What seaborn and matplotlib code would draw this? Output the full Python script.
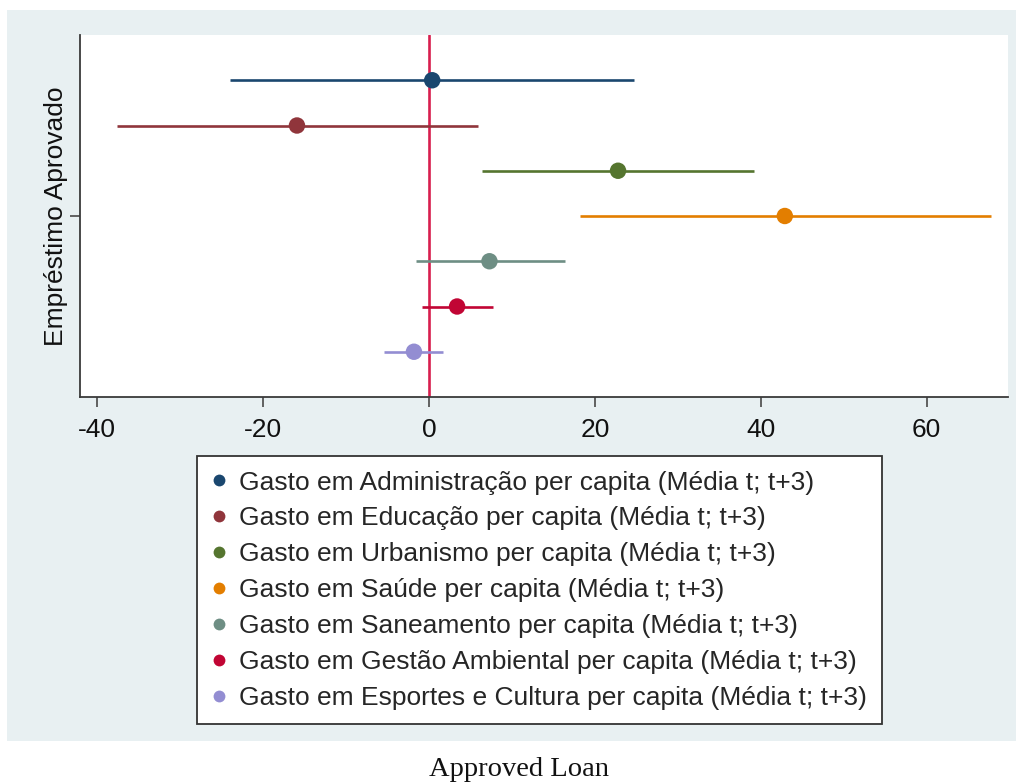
import matplotlib
matplotlib.use("Agg")
import matplotlib.pyplot as plt
from matplotlib.patches import Rectangle
from matplotlib.lines import Line2D
import seaborn as sns
import pandas as pd

# Coefficient estimates and 95% confidence bounds
labels = [
    "Gasto em Administração per capita (Média t; t+3)",
    "Gasto em Educação per capita (Média t; t+3)",
    "Gasto em Urbanismo per capita (Média t; t+3)",
    "Gasto em Saúde per capita (Média t; t+3)",
    "Gasto em Saneamento per capita (Média t; t+3)",
    "Gasto em Gestão Ambiental per capita (Média t; t+3)",
    "Gasto em Esportes e Cultura per capita (Média t; t+3)",
]
coef = [0.4, -15.9, 22.8, 42.9, 7.3, 3.4, -1.8]
ci_low = [-24.0, -37.6, 6.4, 18.2, -1.6, -0.8, -5.4]
ci_high = [24.7, 5.9, 39.2, 67.7, 16.4, 7.7, 1.7]
offsets = [-3, -2, -1, 0, 1, 2, 3]
colors = ["#1a476f", "#90353b", "#55752f", "#e37e00", "#6e8e84", "#c10534", "#938dd2"]
x_ticks = [-40, -20, 0, 20, 40, 60]

df = pd.DataFrame({"label": labels, "coef": coef, "lo": ci_low, "hi": ci_high, "pos": offsets})

sns.set_theme(style="white")
plt.rcParams["font.family"] = ["Liberation Sans", "DejaVu Sans"]

W, H = 1016, 782
fig = plt.figure(figsize=(W / 100, H / 100), dpi=100, facecolor="white")

# Stata-style graph region
fig.patches.append(Rectangle((7 / W, 1 - 741 / H), (W - 7) / W, (741 - 10) / H,
                             transform=fig.transFigure, facecolor="#e8f0f2",
                             edgecolor="none", zorder=-10))

ax = fig.add_axes([80 / W, 1 - 397 / H, (1008 - 80) / W, (397 - 35) / H])
ax.set_facecolor("white")

ax.axvline(0, color="#d81e4e", lw=1.9, zorder=1)
for i, r in df.iterrows():
    ax.hlines(r["pos"], r["lo"], r["hi"], color=colors[i], lw=1.9, zorder=2)

sns.scatterplot(data=df, x="coef", y="pos", hue="label", palette=colors,
                s=140, edgecolor="none", linewidth=0, legend=False, ax=ax, zorder=3)

ax.set_xlim(-42.05, 69.8)
ax.set_ylim(4, -4)
ax.set_xticks(x_ticks)
ax.set_xticklabels([str(v) for v in x_ticks])
ax.set_yticks([0])
ax.set_yticklabels([""])
ax.set_xlabel("")
ax.set_ylabel("Empréstimo Aprovado", fontsize=19, color="#111111", labelpad=-6)

for side in ["top", "right"]:
    ax.spines[side].set_visible(False)
for side in ["left", "bottom"]:
    ax.spines[side].set_color("#3a3a3a")
    ax.spines[side].set_linewidth(1.3)
ax.tick_params(axis="both", which="major", direction="out", length=7, width=1.3,
               color="#555555", labelsize=19, labelcolor="#111111", pad=8,
               bottom=True, left=True)

handles = [Line2D([], [], marker="o", linestyle="none", markersize=8.5,
                  markerfacecolor=c, markeredgecolor="none") for c in colors]
leg = fig.legend(handles, labels, loc="upper left",
                 bbox_to_anchor=(197 / W, 1 - 456 / H), bbox_transform=fig.transFigure,
                 fontsize=19, frameon=True, fancybox=False, handlelength=0.6,
                 handletextpad=0.45, labelspacing=0.45, borderpad=0.55, borderaxespad=0)
leg.get_frame().set_edgecolor("#333333")
leg.get_frame().set_linewidth(1.3)
leg.get_frame().set_facecolor("white")
leg.get_frame().set_alpha(1)

fig.text(519 / W, 1 - 770 / H, "Approved Loan", ha="center", va="center",
         fontsize=20.5, family=["Liberation Serif", "DejaVu Serif"], color="#111111")

fig.savefig("out.png", dpi=100, facecolor="white")
